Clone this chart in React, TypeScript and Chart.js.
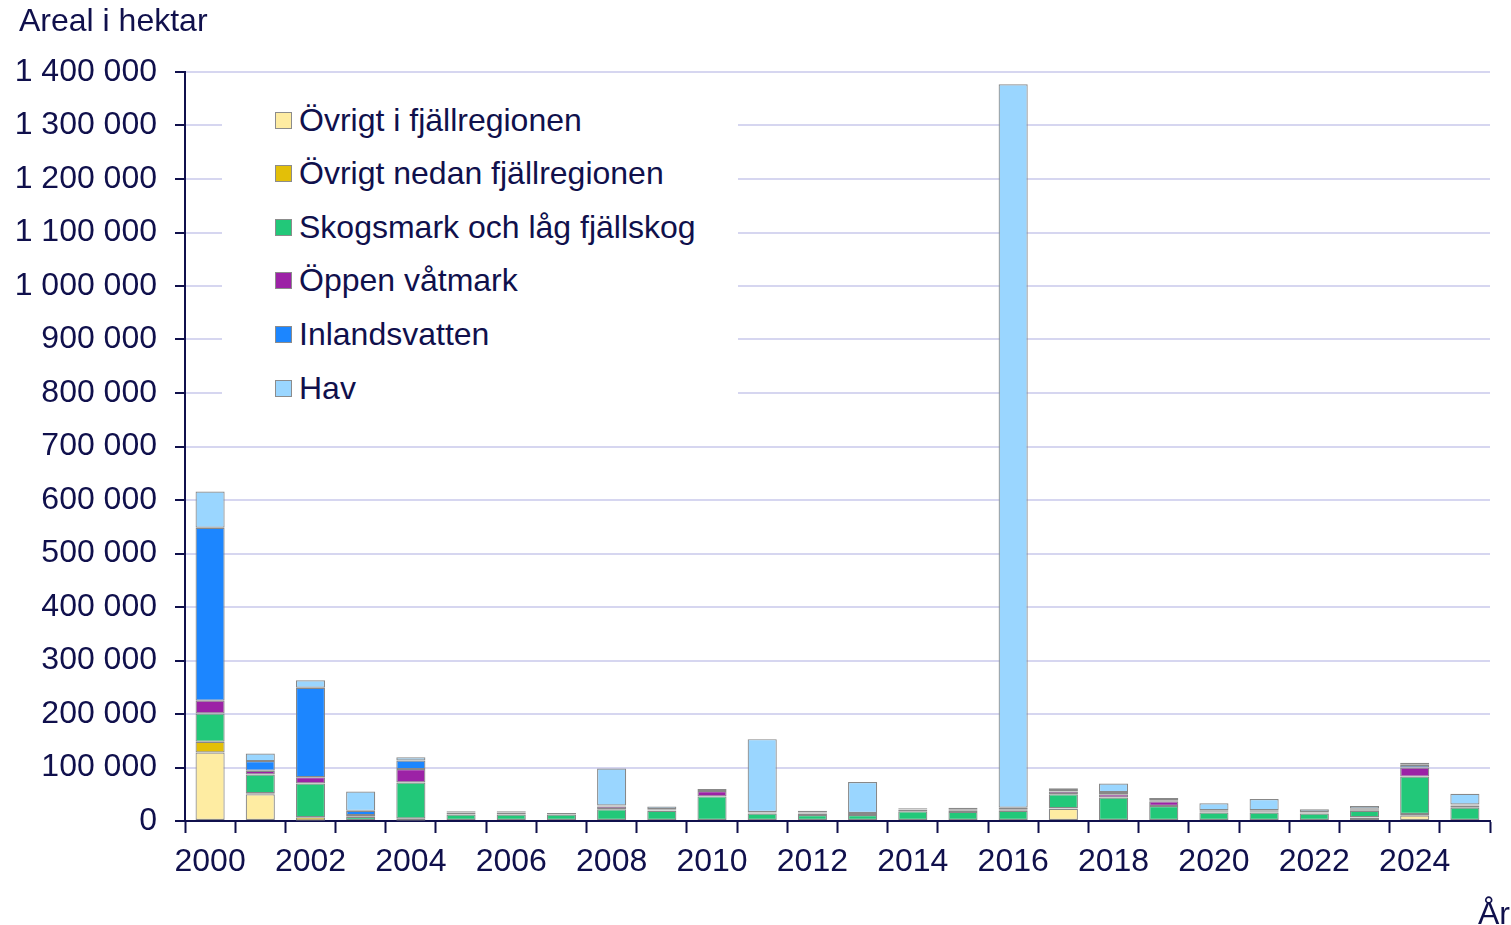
import React, { useEffect, useRef } from "react";
import { Chart, registerables } from "chart.js";

Chart.register(...registerables);

const years = [
  "2000", "2001", "2002", "2003", "2004", "2005", "2006", "2007", "2008", "2009",
  "2010", "2011", "2012", "2013", "2014", "2015", "2016", "2017", "2018", "2019",
  "2020", "2021", "2022", "2023", "2024", "2025",
];

const ovrigtFjall = [128000, 50000, 1000, 0, 1000, 0, 0, 0, 0, 0, 0, 0, 0, 0, 0, 0, 0, 23000, 0, 0, 0, 0, 0, 6000, 10000, 0];
const ovrigtNedan = [20000, 2000, 6000, 0, 4000, 0, 0, 0, 0, 0, 0, 0, 0, 0, 0, 0, 0, 1000, 0, 0, 0, 0, 0, 1000, 3000, 0];
const skogsmark = [53000, 35000, 63000, 8000, 67000, 12000, 12000, 12000, 22000, 19000, 46000, 14000, 11000, 11000, 18000, 17000, 19000, 26000, 44000, 28000, 16000, 16000, 14000, 12000, 70000, 25000];
const oppenVatmark = [24000, 7000, 12000, 3000, 25000, 3000, 4000, 1000, 5000, 1000, 10000, 2000, 3000, 2000, 3000, 2000, 3000, 5000, 6000, 9000, 2000, 2000, 2000, 2000, 17000, 4000];
const inlandsvatten = [323000, 18000, 167000, 8000, 16000, 1000, 0, 0, 2000, 2000, 2000, 1000, 2000, 2000, 1000, 2000, 3000, 3000, 4000, 2000, 2000, 2000, 1000, 2000, 5000, 2000];
const hav = [68000, 14000, 14000, 36000, 6000, 2000, 2000, 2000, 69000, 5000, 2000, 136000, 3000, 58000, 2000, 4000, 1352000, 3000, 16000, 4000, 13000, 21000, 5000, 5000, 4000, 20000];

const seriesNames = [
  "Övrigt i fjällregionen",
  "Övrigt nedan fjällregionen",
  "Skogsmark och låg fjällskog",
  "Öppen våtmark",
  "Inlandsvatten",
  "Hav",
];
const seriesColors = ["#feeca2", "#e3bf08", "#22c879", "#9c22a6", "#1c86ff", "#9ad6ff"];
const seriesData = [ovrigtFjall, ovrigtNedan, skogsmark, oppenVatmark, inlandsvatten, hav];

const TEXT = "#10104c";
const FONT = "'Liberation Sans', Arial, sans-serif";
const FS = 32;

const fmt = (v: number) => String(v).replace(/\B(?=(\d{3})+(?!\d))/g, " ");

export default function App() {
  const ref = useRef<HTMLCanvasElement | null>(null);

  useEffect(() => {
    if (!ref.current) return;
    const chart = new Chart(ref.current, {
      type: "bar",
      data: {
        labels: years,
        datasets: seriesData.map((d, i) => ({
          label: seriesNames[i],
          data: d,
          backgroundColor: seriesColors[i],
          borderColor: "#888888",
          borderWidth: 1.2,
          borderSkipped: false,
          categoryPercentage: 1,
          barPercentage: 0.58,
        })),
      },
      options: {
        animation: false,
        responsive: false,
        layout: { padding: { left: 0, right: 21, top: 72, bottom: 0 } },
        plugins: { legend: { display: false }, tooltip: { enabled: false } },
        scales: {
          x: {
            stacked: true,
            afterFit: (s: any) => {
              s.height = 104;
            },
            grid: {
              drawOnChartArea: false,
              drawTicks: true,
              tickLength: 12,
              tickColor: TEXT,
              tickWidth: 2,
              offset: true,
            },
            border: { color: TEXT, width: 2 },
            ticks: {
              autoSkip: false,
              maxRotation: 0,
              padding: 10,
              color: TEXT,
              font: { family: FONT, size: FS },
              callback: (_v: any, i: number) => (i % 2 === 0 ? years[i] : ""),
            },
          },
          y: {
            stacked: true,
            min: 0,
            max: 1400000,
            afterFit: (s: any) => {
              s.width = 185;
            },
            grid: {
              color: "#d6d6f0",
              lineWidth: 2,
              tickLength: 10,
              tickColor: TEXT,
              tickWidth: 2,
            },
            border: { color: TEXT, width: 2 },
            ticks: {
              stepSize: 100000,
              padding: 18,
              color: TEXT,
              font: { family: FONT, size: FS },
              callback: (v: any) => fmt(Number(v)),
            },
          },
        },
      },
    });
    return () => chart.destroy();
  }, []);

  return (
    <div
      style={{
        position: "fixed",
        left: 0,
        top: 0,
        width: 1511,
        height: 925,
        background: "#fff",
        fontFamily: FONT,
        color: TEXT,
        overflow: "hidden",
      }}
    >
      <canvas ref={ref} width={1511} height={925} style={{ position: "absolute", left: 0, top: 0 }} />
      <div style={{ position: "absolute", left: 19, top: 2, fontSize: FS, lineHeight: "36px", whiteSpace: "nowrap" }}>Areal i hektar</div>
      <div style={{ position: "absolute", left: 1478, top: 895, fontSize: FS, lineHeight: "36px", whiteSpace: "nowrap" }}>År</div>
      <div
        style={{
          position: "absolute",
          left: 222,
          top: 88,
          width: 516,
          height: 328,
          background: "#fff",
        }}
      >
        {seriesNames.map((n, i) => (
          <div
            key={n}
            style={{
              position: "absolute",
              left: 53,
              top: 32 - 18 + i * 53.6,
              height: 36,
              display: "flex",
              alignItems: "center",
              whiteSpace: "nowrap",
              fontSize: FS,
            }}
          >
            <span
              style={{
                display: "inline-block",
                width: 15,
                height: 15,
                background: seriesColors[i],
                border: "1px solid #8c8c8c",
                marginRight: 7,
              }}
            />
            <span>{n}</span>
          </div>
        ))}
      </div>
    </div>
  );
}
